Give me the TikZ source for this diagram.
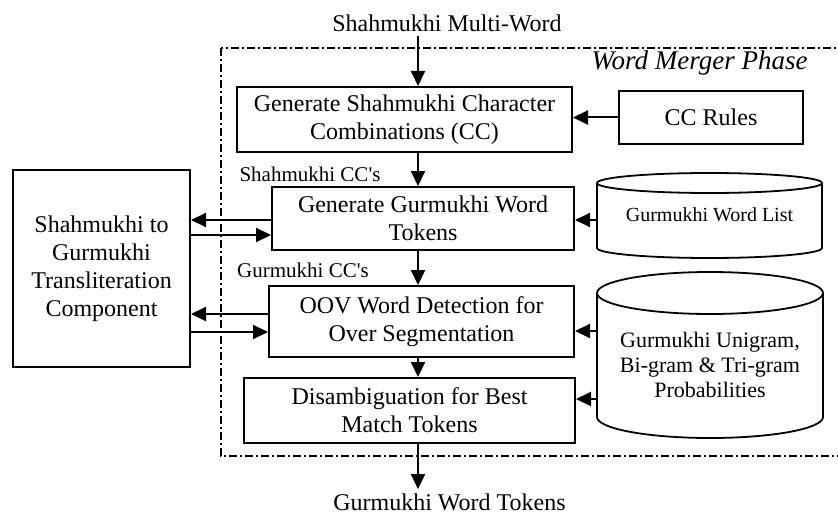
\documentclass[tikz,border=0pt]{standalone}
\usepackage{fontspec}
\setmainfont{Liberation Serif}
\usetikzlibrary{arrows.meta}

\tikzset{
    procbox/.style={draw, line width=1pt, align=center, inner sep=0pt,
                    font=\fontsize{12}{14}\selectfont},
    dbstore/.style={align=center, inner sep=0pt},
    dbline/.style={line width=0.9pt},
    flow/.style={-{Triangle[length=7.5pt,width=7pt]}, line width=1pt},
    phaseframe/.style={line width=0.8pt, dash pattern=on 4pt off 1.5pt on 1pt off 1.5pt},
    smalllabel/.style={font=\fontsize{10.5}{12}\selectfont, inner sep=1pt}
}

% node, x radius, y radius, shift of top and of bottom ellipse centre
\newcommand{\dbcyl}[5]{%
    \draw[dbline] ([shift={(-#2,#4)}]#1.center) -- ([shift={(-#2,#5)}]#1.center)
        arc[start angle=180, end angle=360, x radius=#2, y radius=#3]
        -- ([shift={(#2,#4)}]#1.center)
        arc[start angle=0, end angle=360, x radius=#2, y radius=#3];}

\begin{document}
\begin{tikzpicture}[x=0.5pt, y=-0.5pt, font=\fontsize{12}{13.5}\selectfont]
    \useasboundingbox (0,0) rectangle (838,513);
    \draw[phaseframe] (221,48) rectangle (846,456);
    \node[anchor=east, inner sep=0pt, font=\fontsize{13.5}{15}\selectfont] (phase) at (808,63)
        {\textit{Word Merger Phase}};

    \node[inner sep=2pt] (input) at (447,23) {Shahmukhi Multi-Word};
    \node[inner sep=2pt] (output) at (449.5,502) {Gurmukhi Word Tokens};

    \node[procbox, minimum width=167.5pt, minimum height=32.5pt] (gencc) at (404.5,119.5)
        {Generate Shahmukhi Character\\Combinations (CC)};
    \node[procbox, minimum width=92pt, minimum height=26.5pt] (ccrules) at (711,117.5) {CC Rules};
    \node[procbox, minimum width=151pt, minimum height=31.5pt] (gengt) at (423,218.5)
        {Generate Gurmukhi Word\\Tokens};
    \node[procbox, minimum width=152.5pt, minimum height=35.5pt] (oov) at (421.5,321.5)
        {OOV Word Detection for\\Over Segmentation};
    \node[procbox, minimum width=165.5pt, minimum height=32.5pt] (disamb) at (409.5,410.5)
        {Disambiguation for Best\\Match Tokens};
    \node[procbox, minimum width=88.5pt, minimum height=98.5pt] (translit) at (101.5,268.5)
        {Shahmukhi to\\Gurmukhi\\Transliteration\\Component};

    \node[dbstore, minimum width=112.5pt, minimum height=32pt,
          font=\fontsize{10}{12}\selectfont] (wordlist) at (709.5,215) {Gurmukhi Word List};
    \dbcyl{wordlist}{56.25pt}{5pt}{16pt}{-16.5pt}
    \node[dbstore, minimum width=113pt, minimum height=60pt,
          font=\fontsize{11}{12.5}\selectfont] (ngram) at (710,365)
        {Gurmukhi Unigram,\\Bi-gram \& Tri-gram\\Probabilities};
    \dbcyl{ngram}{56.5pt}{10.5pt}{36pt}{-26pt}

    \node[smalllabel] (shcc) at (310,174) {Shahmukhi CC\textquotesingle s};
    \node[smalllabel] (gucc) at (303,270) {Gurmukhi CC\textquotesingle s};

    \coordinate (spine) at (418,0);
    \draw[flow] (input.south -| spine) -- (gencc.north -| spine);
    \draw[flow] (gencc.south -| spine) -- (gengt.north -| spine);
    \draw[flow] (gengt.south -| spine) -- (oov.north -| spine);
    \draw[flow] (oov.south -| spine) -- (disamb.north -| spine);
    \draw[flow] (disamb.south -| spine) -- (output.north -| spine);

    \draw[flow] (ccrules.west) -- (gencc.east |- ccrules.west);
    \draw[flow] (wordlist.west |- 0,220) -- (gengt.east |- 0,220);
    \draw[flow] (ngram.west |- 0,331) -- (oov.east |- 0,331);
    \draw[flow] (ngram.west |- 0,399) -- (disamb.east |- 0,399);

    \draw[flow] (gengt.west |- 0,220) -- (translit.east |- 0,220);
    \draw[flow] (translit.east |- 0,235) -- (gengt.west |- 0,235);
    \draw[flow] (oov.west |- 0,314) -- (translit.east |- 0,314);
    \draw[flow] (translit.east |- 0,332) -- (oov.west |- 0,332);
\end{tikzpicture}
\end{document}
